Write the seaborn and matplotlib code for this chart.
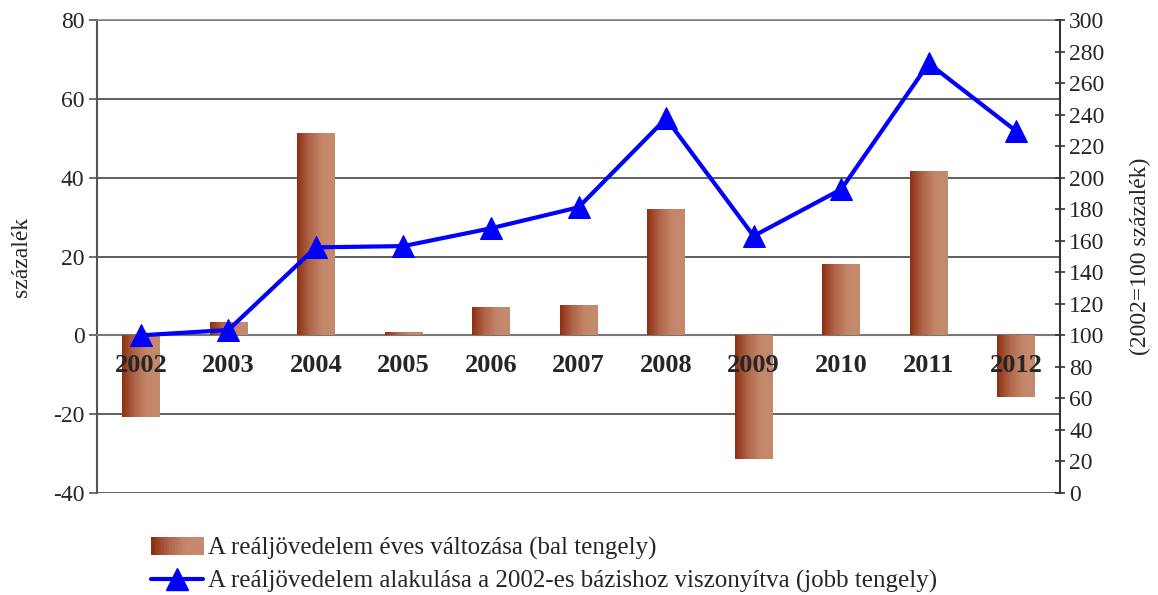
import matplotlib
matplotlib.use("Agg")
import matplotlib.pyplot as plt
import seaborn as sns
import numpy as np
import pandas as pd
from matplotlib.colors import LinearSegmentedColormap
from matplotlib.legend_handler import HandlerBase
from matplotlib.patches import Rectangle
from matplotlib.lines import Line2D

# data
years = ["2002", "2003", "2004", "2005", "2006", "2007", "2008", "2009", "2010", "2011", "2012"]
annual_change = [-20.7, 3.3, 51.3, 0.8, 7.1, 7.6, 32.0, -31.3, 18.0, 41.6, -15.6]
index_2002 = [100, 103.4, 155.8, 156.6, 167.9, 181.2, 237.6, 163.0, 192.6, 272.5, 229.5]

bar_label = "A reáljövedelem éves változása (bal tengely)"
line_label = "A reáljövedelem alakulása a 2002-es bázishoz viszonyítva (jobb tengely)"

sns.set_style("white")
plt.rcParams["font.family"] = ["Liberation Serif", "DejaVu Serif"]
plt.rcParams["axes.unicode_minus"] = False

brown = LinearSegmentedColormap.from_list("brown", ["#8e2f10", "#b0654a", "#c4876a", "#c58a6d"])

fig = plt.figure(figsize=(11.58, 5.95), dpi=100)
ax = fig.add_axes([0.0838, 0.1714, 0.8316, 0.795])

df = pd.DataFrame({"year": years, "change": annual_change})
sns.barplot(data=df, x="year", y="change", color="#b06040", width=0.43, ax=ax, zorder=3)

# gradient fill for each bar
grad = np.linspace(0, 1, 256).reshape(1, -1)
for p in ax.patches:
    x0, y0 = p.get_x(), p.get_y()
    w, h = p.get_width(), p.get_height()
    im = ax.imshow(grad, cmap=brown, aspect="auto", zorder=3,
                   extent=[x0, x0 + w, min(y0, y0 + h), max(y0, y0 + h)])
    im.set_clip_path(p)
    p.set_facecolor("none")
    p.set_edgecolor("none")

ax.set_xlim(-0.5, len(years) - 0.5)
ax.set_ylim(-40, 80)
ax.set_yticks(range(-40, 81, 20))
ax.yaxis.grid(True, color="#444444", linewidth=1.2)
ax.set_axisbelow(True)
ax.tick_params(axis="y", labelsize=17, length=6, width=1.2, color="#555555", direction="out", pad=3)
ax.set_ylabel("százalék", fontsize=17, labelpad=15)
ax.set_xlabel("")

# category axis crossing at zero
ax.spines["bottom"].set_position(("data", 0))
ax.spines["bottom"].set_color("#777777")
ax.spines["bottom"].set_linewidth(1.5)
ax.spines["top"].set_color("#888888")
ax.spines["top"].set_linewidth(1.2)
ax.spines["left"].set_color("#555555")
ax.spines["left"].set_linewidth(1.5)
ax.spines["right"].set_visible(False)
ax.set_xticks(np.arange(len(years)))
ax.set_xticklabels([])
ax.set_xticks(np.arange(0.5, len(years) - 1, 1.0), minor=True)
ax.tick_params(axis="x", which="major", length=0)
ax.tick_params(axis="x", which="minor", length=6, width=1.2, color="#777777", direction="out")
# year labels drawn above the bars
for i, y in enumerate(years):
    ax.text(i, -7.6, y, ha="center", va="center", fontsize=19, fontweight="bold", zorder=10)

ax2 = ax.twinx()
ax2.set_position(ax.get_position())
sns.lineplot(x=np.arange(len(years)), y=index_2002, ax=ax2, color="#0000ff",
             linewidth=3, marker="^", markersize=16, markeredgecolor="#0000ff", zorder=5)
ax2.set_ylim(0, 300)
ax2.set_yticks(range(0, 301, 20))
ax2.tick_params(axis="y", labelsize=17, length=7, width=1.2, color="#333333", direction="inout", pad=3)
ax2.set_ylabel("(2002=100 százalék)", fontsize=17, labelpad=18)
for s in ["top", "left", "bottom"]:
    ax2.spines[s].set_visible(False)
ax2.spines["right"].set_color("#333333")
ax2.spines["right"].set_linewidth(1.5)
ax.set_zorder(ax2.get_zorder() - 1)
ax.patch.set_visible(False)


class GradientHandler(HandlerBase):
    def create_artists(self, legend, orig, xd, yd, width, height, fontsize, trans):
        n = 20
        arts = []
        for i in range(n):
            r = Rectangle((xd + width * i / n, yd), width / n + 0.3, height,
                          facecolor=brown(i / (n - 1)), edgecolor="none", transform=trans)
            arts.append(r)
        return arts


bar_handle = Rectangle((0, 0), 1, 1)
line_handle = Line2D([], [], color="#0000ff", linewidth=3, marker="^", markersize=16)
fig.legend([bar_handle, line_handle], [bar_label, line_label],
           handler_map={Rectangle: GradientHandler()},
           loc="upper left", bbox_to_anchor=(0.126, 0.106), frameon=False,
           fontsize=18, handlelength=2.1, handletextpad=0.2, labelspacing=0.4,
           borderaxespad=0, borderpad=0.2)

fig.savefig("out.png", dpi=100)
